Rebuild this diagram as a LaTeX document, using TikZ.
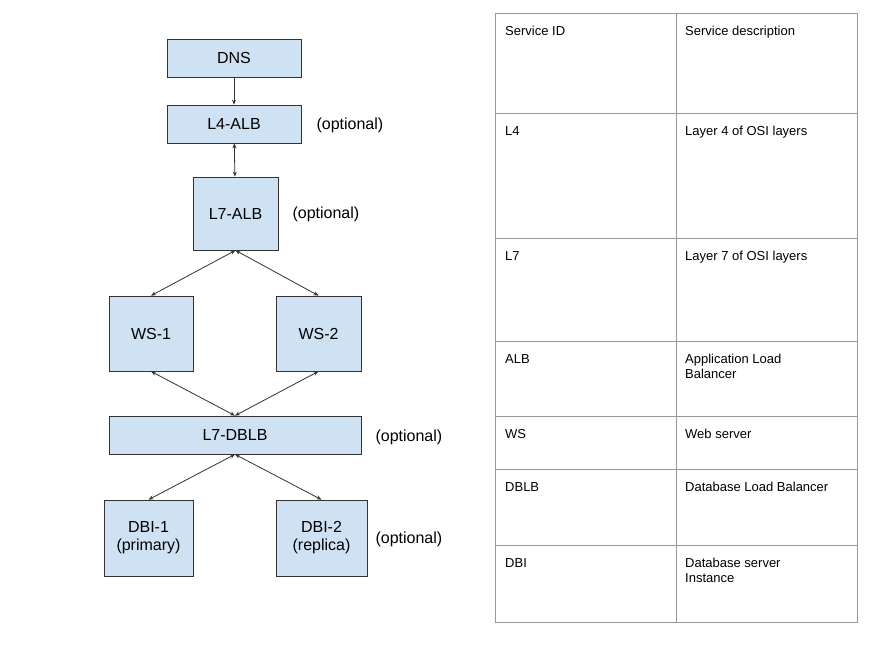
\documentclass[tikz,border=0pt]{standalone}
\usepackage{fontspec}
\setmainfont{Liberation Sans}
\usetikzlibrary{positioning, arrows.meta}
\definecolor{boxblue}{RGB}{207,226,243}

\tikzset{
  box/.style = {draw=black!80, fill=boxblue, line width=0.7pt, inner sep=0pt,
    font=\fontsize{16}{18}\selectfont, align=center},
  note/.style = {font=\fontsize{16}{18}\selectfont},
  link/.style = {{Stealth[length=5pt,width=4pt]}-{Stealth[length=5pt,width=4pt]}, draw=black!80, line width=0.8pt},
  onelink/.style = {-{Stealth[length=5pt,width=4pt]}, draw=black!80, line width=0.8pt},
  cell/.style = {anchor=north west, font=\fontsize{13}{15}\selectfont, align=left, inner sep=0pt},
}

\begin{document}
\begin{tikzpicture}[x=1pt, y=-1pt]
  \useasboundingbox (0,0) rectangle (880,660);

  % Service chain
  \node[box, minimum width=134pt, minimum height=38pt] (dns) at (234,58) {DNS};
  \node[box, minimum width=134pt, minimum height=38pt] (l4) at (234,124) {L4-ALB};
  \node[box, minimum width=85pt, minimum height=73pt] (l7) at (235.5,213.5) {L7-ALB};
  \node[box, minimum width=84pt, minimum height=75pt] (ws1) at (151,333.5) {WS-1};
  \node[box, minimum width=85pt, minimum height=75pt] (ws2) at (318.5,333.5) {WS-2};
  \node[box, minimum width=252pt, minimum height=38pt] (dblb) at (235,435) {L7-DBLB};
  \node[box, minimum width=89pt, minimum height=76pt] (dbi1) at (148.5,538) {DBI-1\\(primary)};
  \node[box, minimum width=91pt, minimum height=76pt] (dbi2) at (321.5,538) {DBI-2\\(replica)};

  \node[note, anchor=west] (optl4) at (313,125) {(optional)};
  \node[note, anchor=west] (optl7) at (289,214) {(optional)};
  \node[note, anchor=west] (optdblb) at (372,437) {(optional)};
  \node[note, anchor=west] (optdbi) at (372,539) {(optional)};

  \draw[onelink] (dns) -- (l4);
  \draw[link] (l4) -- (l7);
  \draw[link] (l7.south) -- (ws1.north);
  \draw[link] (l7.south) -- (ws2.north);
  \draw[link] (ws1.south) -- (dblb.north);
  \draw[link] (ws2.south) -- (dblb.north);
  \draw[link] (dblb.south) -- (dbi1.north);
  \draw[link] (dblb.south) -- (dbi2.north);

  % Glossary table
  \draw[black!40, line width=0.5pt] (495,13) rectangle (857,622);
  \draw[black!40, line width=0.5pt] (676,13) -- (676,622);
  \foreach \y in {113,238,341,416,469,545}
    \draw[black!40, line width=0.5pt] (495,\y) -- (857,\y);

  \node[cell] (hid) at (505,26) {Service ID};
  \node[cell] (hdesc) at (685,26) {Service description};
  \node[cell] (idl4) at (505,126) {L4};
  \node[cell] (descl4) at (685,126) {Layer 4 of OSI layers};
  \node[cell] (idl7) at (505,251) {L7};
  \node[cell] (descl7) at (685,251) {Layer 7 of OSI layers};
  \node[cell] (idalb) at (505,354) {ALB};
  \node[cell] (descalb) at (685,354) {Application Load\\Balancer};
  \node[cell] (idws) at (505,429) {WS};
  \node[cell] (descws) at (685,429) {Web server};
  \node[cell] (iddblb) at (505,482) {DBLB};
  \node[cell] (descdblb) at (685,482) {Database Load Balancer};
  \node[cell] (iddbi) at (505,558) {DBI};
  \node[cell] (descdbi) at (685,558) {Database server\\Instance};
\end{tikzpicture}
\end{document}
